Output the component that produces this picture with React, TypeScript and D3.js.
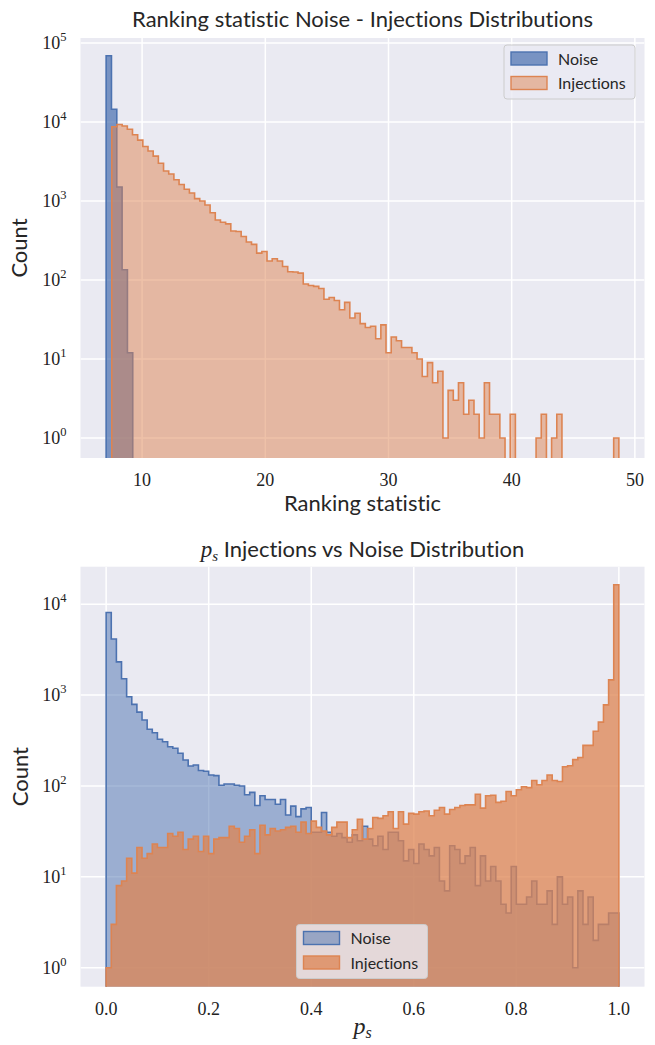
import React from "react";
import * as d3 from "d3";

// ---------- Data ----------
// Top panel: ranking statistic histograms
const rankNoiseRange = [7.08, 9.24];
const rankNoiseCounts = [69000, 14500, 1500, 135, 12];
const rankInjRange = [7.54, 48.7];
const rankInjCounts = [
  8700, 9300, 8900, 8100, 6900, 5900, 4900, 4300, 3700, 3000,
  2400, 2200, 1860, 1620, 1410, 1260, 1070, 1000, 890, 710,
  575, 537, 513, 417, 410, 355, 302, 282, 219, 229,
  174, 186, 174, 148, 127, 126, 122, 89, 85, 83,
  78, 57, 60, 55, 42, 52, 33, 38, 28, 25,
  26, 18, 27, 12, 19, 17, 14, 14, 12, 10,
  6, 9, 5, 7, 1, 4, 3, 5, 2, 3,
  2, 1, 5, 2, 2, 1, 0, 2, 0, 0,
  0, 0, 1, 2, 0, 1, 2, 0, 0, 0,
  0, 0, 0, 0, 0, 0, 0, 1,
];
const rankXTicks = [10, 20, 30, 40, 50];

// Bottom panel: p_s histograms (100 bins over [0, 1])
const psRange = [0, 1];
const psNoiseCounts = [
  8100, 4150, 2320, 1515, 960, 790, 650, 533, 421, 386,
  327, 307, 270, 260, 229, 193, 166, 170, 148, 145,
  132, 130, 102, 105, 105, 102, 100, 80, 85, 61,
  78, 71, 71, 63, 71, 48, 60, 46, 56, 58,
  31, 31, 51, 31, 28, 30, 27, 24, 29, 25,
  36, 26, 22, 28, 20, 31, 31, 25, 15, 20,
  14, 23, 20, 17, 21, 9, 7, 22, 20, 14,
  17, 21, 8, 17, 9, 13, 9, 5, 4, 13,
  5, 5, 6, 9, 5, 5, 7, 3, 10, 5,
  6, 1, 7, 3, 6, 2, 3, 3, 4, 4,
];
const psInjCounts = [
  1, 3, 8, 9, 16, 11, 21, 16, 18, 23,
  21, 21, 30, 28, 31, 20, 26, 28, 19, 28,
  18, 26, 27, 27, 36, 34, 24, 28, 33, 18,
  37, 29, 34, 32, 33, 35, 36, 31, 40, 30,
  41, 35, 32, 29, 35, 40, 40, 27, 33, 43,
  26, 34, 45, 44, 47, 52, 34, 52, 38, 50,
  49, 52, 53, 47, 54, 58, 49, 55, 58, 61,
  62, 62, 81, 57, 78, 79, 66, 68, 87, 78,
  91, 98, 96, 115, 103, 115, 132, 115, 112, 163,
  167, 195, 206, 280, 280, 400, 505, 780, 1470, 16400,
];
const psXTicks = [0, 0.2, 0.4, 0.6, 0.8, 1.0];

const rankYDomain = [0.558, 115600];
const psYDomain = [0.618, 25900];
const yDecadesTop = [0, 1, 2, 3, 4, 5];
const yDecadesBottom = [0, 1, 2, 3, 4];

const BLUE = "#4c72b0";
const ORANGE = "#dd8452";
const BG = "#eaeaf2";
const SANS = "Lato, 'Open Sans', sans-serif";
const SERIF = "'Liberation Serif', 'DejaVu Serif', serif";
const NOLIG = { fontVariantLigatures: "none" as const };

type Series = { range: number[]; counts: number[] };

function stepPath(
  s: Series,
  x: d3.ScaleLinear<number, number>,
  y: d3.ScaleLogarithmic<number, number>,
  closed: boolean
) {
  const n = s.counts.length;
  const w = (s.range[1] - s.range[0]) / n;
  const base = y.range()[0] + 5;
  const yy = (v: number) => (v > 0 ? y(v) : base);
  const pts: [number, number][] = [];
  pts.push([x(s.range[0]), base]);
  s.counts.forEach((c, i) => pts.push([x(s.range[0] + i * w), yy(c)]));
  pts.push([x(s.range[1]), yy(s.counts[n - 1])]);
  pts.push([x(s.range[1]), base]);
  const line = d3.line().curve(d3.curveStepAfter);
  const d = line(pts) || "";
  return closed ? d + "Z" : d;
}

type PanelProps = {
  id: string;
  top: number;
  bottom: number;
  left: number;
  right: number;
  xDomain: number[];
  yDomain: number[];
  xTicks: number[];
  decades: number[];
  xFmt: (v: number) => string;
  noise: Series;
  inj: Series;
  noiseAlpha: number;
  injAlpha: number;
};

function Panel(p: PanelProps) {
  const x = d3.scaleLinear().domain(p.xDomain).range([p.left, p.right]);
  const y = d3.scaleLog().domain(p.yDomain).range([p.bottom, p.top]);
  return (
    <g>
      <defs>
        <clipPath id={p.id}>
          <rect x={p.left} y={p.top} width={p.right - p.left} height={p.bottom - p.top} />
        </clipPath>
      </defs>
      <rect x={p.left} y={p.top} width={p.right - p.left} height={p.bottom - p.top} fill={BG} />
      <g clipPath={`url(#${p.id})`}>
        {p.xTicks.map((t) => (
          <line key={"gx" + t} x1={x(t)} x2={x(t)} y1={p.top} y2={p.bottom} stroke="#fff" strokeWidth={1.5} />
        ))}
        {p.decades.map((e) => (
          <line key={"gy" + e} x1={p.left} x2={p.right} y1={y(Math.pow(10, e))} y2={y(Math.pow(10, e))} stroke="#fff" strokeWidth={1.5} />
        ))}
        <path d={stepPath(p.noise, x, y, true)} fill={BLUE} fillOpacity={p.noiseAlpha} stroke="none" />
        <path d={stepPath(p.noise, x, y, false)} fill="none" stroke={BLUE} strokeWidth={1.6} strokeLinejoin="miter" />
        <path d={stepPath(p.inj, x, y, true)} fill={ORANGE} fillOpacity={p.injAlpha} stroke="none" />
        <path d={stepPath(p.inj, x, y, false)} fill="none" stroke={ORANGE} strokeWidth={1.6} strokeLinejoin="miter" />
      </g>
      {p.xTicks.map((t) => (
        <text key={"tx" + t} x={x(t)} y={p.bottom + 28} textAnchor="middle" fontFamily={SERIF} fontSize={18} fill="#222">
          {p.xFmt(t)}
        </text>
      ))}
      {p.decades.map((e) => (
        <text key={"ty" + e} x={p.left - 14} y={y(Math.pow(10, e)) + 6} textAnchor="end" fontFamily={SERIF} fontSize={18} fill="#222">
          <tspan>10</tspan>
          <tspan dy={-8} fontSize={12.5}>{e}</tspan>
        </text>
      ))}
    </g>
  );
}

function Legend({ x, y, noiseAlpha, injAlpha }: { x: number; y: number; noiseAlpha: number; injAlpha: number }) {
  return (
    <g>
      <rect x={x} y={y} width={131} height={54} rx={3} fill={BG} fillOpacity={0.8} stroke="#cccccc" strokeWidth={1} />
      <rect x={x + 7} y={y + 7} width={36} height={13} fill={BLUE} fillOpacity={noiseAlpha} stroke={BLUE} strokeWidth={1.4} />
      <rect x={x + 7} y={y + 31.5} width={36} height={13} fill={ORANGE} fillOpacity={injAlpha} stroke={ORANGE} strokeWidth={1.4} />
      <text x={x + 54} y={y + 19.5} fontFamily={SANS} fontSize={16} fill="#262626" style={NOLIG}>Noise</text>
      <text x={x + 54} y={y + 44} fontFamily={SANS} fontSize={16} fill="#262626" style={NOLIG}>Injections</text>
    </g>
  );
}

function padDomain(a: number, b: number) {
  const r = b - a;
  return [a - 0.05 * r, b + 0.05 * r];
}

export default function App() {
  const L = 80.5;
  const R = 644.5;
  const rankX = padDomain(
    Math.min(rankNoiseRange[0], rankInjRange[0]),
    Math.max(rankNoiseRange[1], rankInjRange[1])
  );
  const psX = padDomain(psRange[0], psRange[1]);
  const topT = 38, topB = 458;
  const botT = 566.7, botB = 986.7;
  return (
    <svg width={655} height={1045} style={{ position: "absolute", left: 0, top: 0, background: "#fff" }}>
      <rect x={0} y={0} width={655} height={1045} fill="#fff" />
      <Panel
        id="clipTop"
        top={topT}
        bottom={topB}
        left={L}
        right={R}
        xDomain={rankX}
        yDomain={rankYDomain}
        xTicks={rankXTicks}
        decades={yDecadesTop}
        xFmt={(v) => String(v)}
        noise={{ range: rankNoiseRange, counts: rankNoiseCounts }}
        inj={{ range: rankInjRange, counts: rankInjCounts }}
        noiseAlpha={0.72}
        injAlpha={0.5}
      />
      <text x={(L + R) / 2} y={27} textAnchor="middle" fontFamily={SANS} fontSize={22} fill="#262626" style={NOLIG}>
        Ranking statistic Noise - Injections Distributions
      </text>
      <text x={(L + R) / 2} y={511} textAnchor="middle" fontFamily={SANS} fontSize={22} fill="#262626" style={NOLIG}>
        Ranking statistic
      </text>
      <text transform={`translate(27,${(topT + topB) / 2}) rotate(-90)`} textAnchor="middle" fontFamily={SANS} fontSize={22} fill="#262626">
        Count
      </text>
      <Legend x={504} y={45} noiseAlpha={0.72} injAlpha={0.5} />

      <Panel
        id="clipBot"
        top={botT}
        bottom={botB}
        left={L}
        right={R}
        xDomain={psX}
        yDomain={psYDomain}
        xTicks={psXTicks}
        decades={yDecadesBottom}
        xFmt={(v) => v.toFixed(1)}
        noise={{ range: psRange, counts: psNoiseCounts }}
        inj={{ range: psRange, counts: psInjCounts }}
        noiseAlpha={0.5}
        injAlpha={0.75}
      />
      <text x={(L + R) / 2} y={557} textAnchor="middle" fontFamily={SANS} fontSize={22} fill="#262626" style={NOLIG}>
        <tspan fontFamily={SERIF} fontStyle="italic" fontSize={23}>p</tspan>
        <tspan fontFamily={SERIF} fontStyle="italic" fontSize={15} dy={4}>s</tspan>
        <tspan dy={-4}> Injections vs Noise Distribution</tspan>
      </text>
      <text x={(L + R) / 2} y={1034} textAnchor="middle" fontFamily={SERIF} fontStyle="italic" fontSize={24} fill="#262626">
        <tspan>p</tspan>
        <tspan fontSize={16} dy={4}>s</tspan>
      </text>
      <text transform={`translate(28,${(botT + botB) / 2}) rotate(-90)`} textAnchor="middle" fontFamily={SANS} fontSize={22} fill="#262626">
        Count
      </text>
      <Legend x={296.5} y={924.5} noiseAlpha={0.5} injAlpha={0.75} />
    </svg>
  );
}
